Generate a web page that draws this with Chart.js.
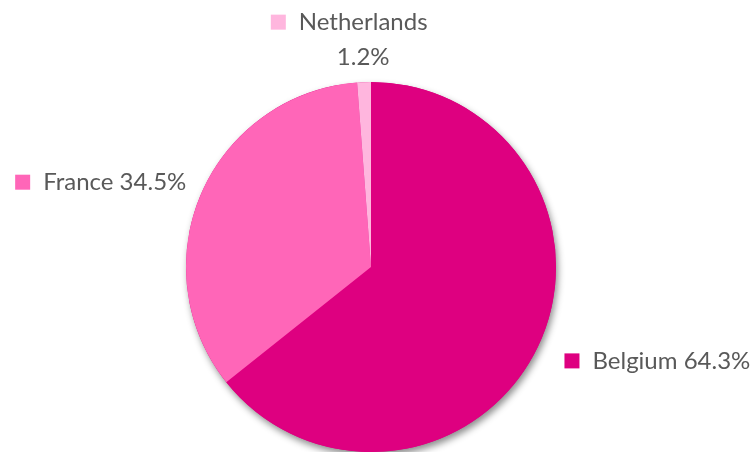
<!DOCTYPE html>
<html>
<head>
<meta charset="utf-8">
<script src="https://cdn.jsdelivr.net/npm/chart.js@4.4.1/dist/chart.umd.min.js"></script>
<style>
  html, body { margin: 0; padding: 0; background: #fff; }
  #wrap { width: 755px; height: 452px; }
</style>
</head>
<body>
<div id="wrap"><canvas id="chart"></canvas></div>
<script>
const countries = ['Belgium', 'France', 'Netherlands'];
const shares = [64.3, 34.5, 1.2];
const colours = ['#DE0080', '#FF66B8', '#FFB6DE'];

const FONT = '24px Lato, "Open Sans", sans-serif';
const TEXT = '#595959';

// soft drop shadow under the whole pie, drawn once so slices don't shade each other
const pieShadow = {
    id: 'pieShadow',
    beforeDatasetsDraw(chart) {
        const arc = chart.getDatasetMeta(0).data[0];
        if (!arc) return;
        const ctx = chart.ctx;
        ctx.save();
        ctx.shadowColor = 'rgba(0,0,0,0.45)';
        ctx.shadowBlur = 7;
        ctx.shadowOffsetX = 2;
        ctx.shadowOffsetY = 4;
        ctx.fillStyle = '#DE0080';
        ctx.beginPath();
        ctx.arc(arc.x, arc.y, arc.outerRadius, 0, Math.PI * 2);
        ctx.fill();
        ctx.restore();
    }
};

// labels with a small colour square, placed outside each slice
const sliceLabels = {
    id: 'sliceLabels',
    afterDatasetsDraw(chart) {
        const ctx = chart.ctx;
        const meta = chart.getDatasetMeta(0);
        ctx.save();
        ctx.font = FONT;
        ctx.textBaseline = 'middle';
        meta.data.forEach((arc, i) => {
            const mid = (arc.startAngle + arc.endAngle) / 2;
            const r = arc.outerRadius + 22;
            const ax = arc.x + Math.cos(mid) * r;
            const ay = arc.y + Math.sin(mid) * r;
            const name = countries[i];
            const pct = shares[i].toFixed(1) + '%';
            const box = 15;
            const gap = 13;
            ctx.fillStyle = TEXT;
            ctx.textAlign = 'left';
            if (Math.cos(mid) > 0.3) {
                // right side
                const x = ax + 7, y = ay + 4;
                ctx.fillStyle = colours[i];
                ctx.fillRect(x, y - box / 2, box, box);
                ctx.fillStyle = TEXT;
                ctx.fillText(name + ' ' + pct, x + box + gap, y);
            } else if (Math.cos(mid) < -0.3) {
                // left side
                const txt = name + ' ' + pct;
                const w = ctx.measureText(txt).width;
                const x = ax + 5, y = ay - 2;
                ctx.fillText(txt, x - w, y);
                ctx.fillStyle = colours[i];
                ctx.fillRect(x - w - gap - box, y - box / 2, box, box);
            } else {
                // top: name centred over the slice, square to its left, value below
                const w = ctx.measureText(name).width;
                const left = ax - w / 2;
                const y1 = ay - 38;
                ctx.fillStyle = colours[i];
                ctx.fillRect(left - gap - box, y1 - box / 2, box, box);
                ctx.fillStyle = TEXT;
                ctx.fillText(name, left, y1);
                ctx.textAlign = 'center';
                ctx.fillText(pct, ax, ay - 3);
            }
        });
        ctx.restore();
    }
};

new Chart(document.getElementById('chart'), {
    type: 'pie',
    data: {
        labels: countries,
        datasets: [{
            data: shares,
            backgroundColor: colours,
            borderWidth: 0
        }]
    },
    options: {
        responsive: true,
        maintainAspectRatio: false,
        animation: false,
        layout: { padding: { top: 82, bottom: 0, left: 0, right: 13 } },
        plugins: {
            legend: { display: false },
            tooltip: { enabled: false }
        }
    },
    plugins: [pieShadow, sliceLabels]
});
</script>
</body>
</html>
